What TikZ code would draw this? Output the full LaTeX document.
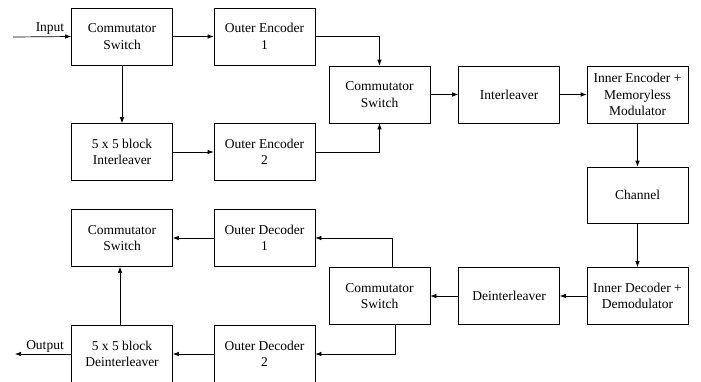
\documentclass[tikz,border=0pt]{standalone}
\usepackage{fontspec}
\setmainfont{LiberationSerif-Regular.ttf}
\usetikzlibrary{arrows.meta}
\begin{document}
\begin{tikzpicture}[x=1pt,y=-1pt,
  blk/.style={draw, line width=0.7pt, minimum width=101pt, minimum height=57pt, align=center, inner sep=0pt,
    font=\fontsize{13.5}{16.5}\selectfont},
  conn/.style={line width=0.7pt, -{Latex[length=6pt,width=4.5pt]}},
  lbl/.style={font=\fontsize{13.5}{16.5}\selectfont, inner sep=0pt}]
\useasboundingbox (0,0) rectangle (701,381);
\node[blk] (cs1) at (122,36.5) {Commutator\\Switch};
\node[blk] (oe1) at (264.5,36.5) {Outer Encoder\\1};
\node[blk] (il5) at (122,152) {5 x 5 block\\Interleaver};
\node[blk] (oe2) at (264.5,152) {Outer Encoder\\2};
\node[blk] (cs2) at (379.5,94.5) {Commutator\\Switch};
\node[blk] (intl) at (509,94.5) {Interleaver};
\node[blk] (ie) at (637.5,94.5) {Inner Encoder +\\Memoryless\\Modulator};
\node[blk, minimum height=56pt] (ch) at (637.5,195) {Channel};
\node[blk] (id) at (637.5,296) {Inner Decoder +\\Demodulator};
\node[blk] (dint) at (509,296) {Deinterleaver};
\node[blk] (cs3) at (379.5,296) {Commutator\\Switch};
\node[blk] (csl) at (122,238) {Commutator\\Switch};
\node[blk] (od1) at (264.5,238) {Outer Decoder\\1};
\node[blk] (od2) at (264.5,354) {Outer Decoder\\2};
\node[blk] (dil5) at (122,354) {5 x 5 block\\Deinterleaver};
\coordinate (in) at (13,37);
\coordinate (out) at (15,354);
\node[lbl] (inlbl) at (50,29) {Input};
\node[lbl] (outlbl) at (45,346) {Output};
\draw[conn] (in) -- (cs1.west);
\draw[conn] (cs1) -- (oe1);
\draw[conn] (cs1) -- (il5);
\draw[conn] (il5) -- (oe2);
\draw[conn] (oe1.east) -| (cs2.north);
\draw[conn] (oe2.east) -| (cs2.south);
\draw[conn] (cs2) -- (intl);
\draw[conn] (intl) -- (ie);
\draw[conn] (ie) -- (ch);
\draw[conn] (ch) -- (id);
\draw[conn] (id) -- (dint);
\draw[conn] (dint) -- (cs3);
\draw[conn] ([xshift=12.5pt]cs3.north) |- (od1.east);
\draw[conn] ([xshift=15.5pt]cs3.south) |- (od2.east);
\draw[conn] (od1) -- (csl);
\draw[conn] ([xshift=-2pt]dil5.north) -- ([xshift=-2pt]csl.south);
\draw[conn] (od2) -- (dil5);
\draw[conn] (dil5.west) -- (out);
\end{tikzpicture}
\end{document}
